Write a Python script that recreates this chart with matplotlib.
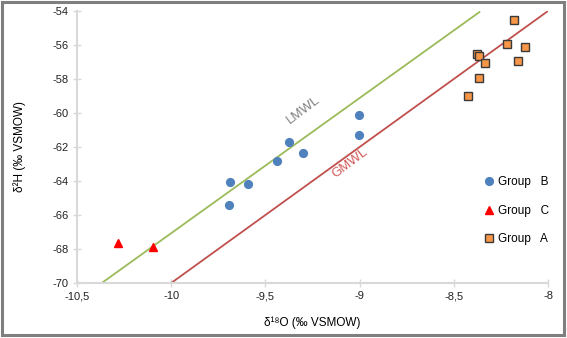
import numpy as np
import matplotlib
matplotlib.use("Agg")
import matplotlib.pyplot as plt
from matplotlib.patches import Rectangle
from matplotlib.ticker import FuncFormatter

plt.rcParams["font.family"] = ["Liberation Sans", "DejaVu Sans"]

# Group B
b_x = [-9.69, -9.59, -9.695, -9.438, -9.374, -9.298, -9.005, -9.005]
b_y = [-64.04, -64.18, -65.41, -62.82, -61.69, -62.33, -60.10, -61.28]
# Group C
c_x = [-10.284, -10.097]
c_y = [-67.63, -67.90]
# Group A
a_x = [-8.183, -8.215, -8.124, -8.375, -8.365, -8.335, -8.161, -8.364, -8.422]
a_y = [-54.51, -55.92, -56.10, -56.55, -56.62, -57.04, -56.92, -57.92, -59.00]

# meteoric water lines: slope, intercept, x range
gmwl = (8.0, 10.0, -10.0, -8.0)
lmwl = (7.95, 12.43, -10.369, -8.364)

x_ticks = [-10.5, -10, -9.5, -9, -8.5, -8]
y_ticks = [-70, -68, -66, -64, -62, -60, -58, -56, -54]

fig = plt.figure(figsize=(5.67, 3.38), dpi=100)
ax = fig.add_axes([0.1358, 0.1627, 0.8307, 0.8048])

for slope, icpt, x0, x1, col in [(*gmwl, "#C0504D"), (*lmwl, "#9BBB59")]:
    xx = np.array([x0, x1])
    ax.plot(xx, slope * xx + icpt, color=col, lw=1.3, zorder=2)

ax.plot(b_x, b_y, "o", color="#4F81BD", ms=5.6, label="Group   B", zorder=3)
ax.plot(c_x, c_y, "^", color="#FF0000", ms=5.4, label="Group   C", zorder=3)
ax.plot(a_x, a_y, "s", color="#F79646", mec="#3A3A3A", mew=1.0, ms=5.2,
        label="Group   A", zorder=3)

ax.text(-9.30, -59.85, "LMWL", color="#808080", fontsize=9.5, rotation=37,
        ha="center", va="center")
ax.text(-9.05, -62.95, "GMWL", color="#D05A57", fontsize=9.5, rotation=37,
        ha="center", va="center")

ax.set_xlim(-10.5, -8)
ax.set_ylim(-70, -54)
ax.set_xticks(x_ticks)
ax.set_yticks(y_ticks)
fmt = FuncFormatter(lambda v, p: f"{v:g}".replace(".", ","))
ax.xaxis.set_major_formatter(fmt)
ax.yaxis.set_major_formatter(fmt)

for s in ["top", "right"]:
    ax.spines[s].set_visible(False)
for s in ["left", "bottom"]:
    ax.spines[s].set_color("#D9D9D9")
    ax.spines[s].set_linewidth(1.5)
ax.tick_params(direction="inout", length=6, width=1, color="#D9D9D9",
               labelsize=8, labelcolor="#222222", pad=3)
ax.set_xlabel("δ¹⁸O (‰ VSMOW)", fontsize=8.5, labelpad=11)
ax.set_ylabel("δ²H (‰ VSMOW)", fontsize=8.5, labelpad=19)

ax.legend(loc="center left", bbox_to_anchor=(0.843, 0.265), frameon=False,
          fontsize=8.5, handlelength=0.8, handletextpad=0.3, labelspacing=1.4)

fig.patches.append(Rectangle((0.004, 0.008), 0.99, 0.985, transform=fig.transFigure,
                             fill=False, edgecolor="#7F7F7F", lw=2.2))

fig.savefig("out.png", dpi=100)
